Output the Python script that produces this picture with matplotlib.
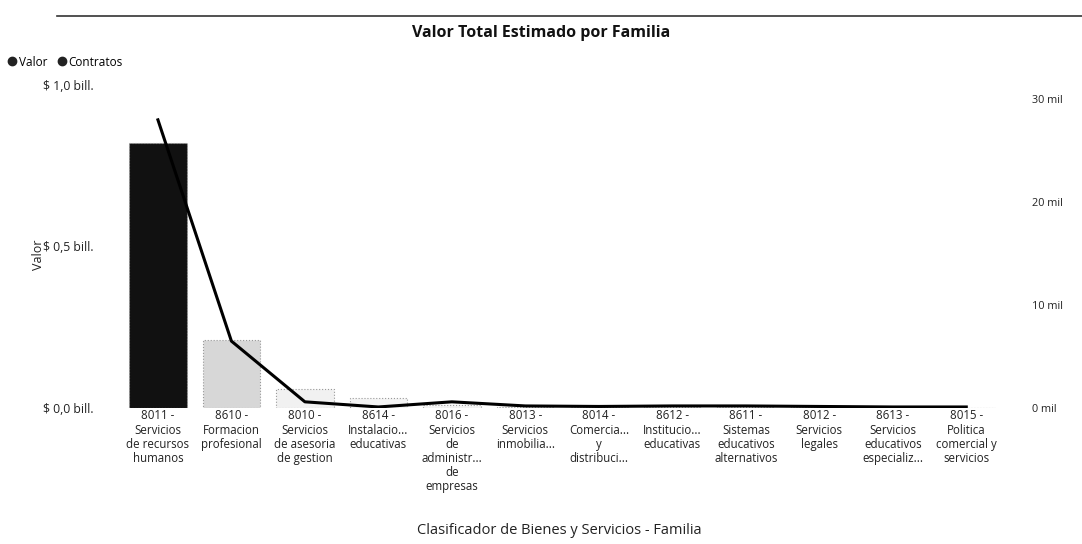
import matplotlib.pyplot as plt
from matplotlib.lines import Line2D
import numpy as np

plt.rcParams['font.family'] = ['Open Sans', 'DejaVu Sans']

categorias = [
    "8011 -\nServicios\nde recursos\nhumanos",
    "8610 -\nFormacion\nprofesional",
    "8010 -\nServicios\nde asesoria\nde gestion",
    "8614 -\nInstalacio...\neducativas",
    "8016 -\nServicios\nde\nadministr...\nde\nempresas",
    "8013 -\nServicios\ninmobilia...",
    "8014 -\nComercia...\ny\ndistribuci...",
    "8612 -\nInstitucio...\neducativas",
    "8611 -\nSistemas\neducativos\nalternativos",
    "8012 -\nServicios\nlegales",
    "8613 -\nServicios\neducativos\nespecializ...",
    "8015 -\nPolitica\ncomercial y\nservicios",
]
# valor en billones de pesos
valor = [0.82, 0.21, 0.06, 0.03, 0.01, 0.004, 0.003, 0.003, 0.002, 0.002, 0.001, 0.001]
# contratos en miles
contratos = [28.0, 6.5, 0.6, 0.1, 0.6, 0.2, 0.15, 0.2, 0.2, 0.15, 0.1, 0.1]

left_ticks = [0, 0.5, 1.0]
left_labels = ["$ 0,0 bill.", "$ 0,5 bill.", "$ 1,0 bill."]
right_ticks = [0, 10, 20, 30]
right_labels = ["0 mil", "10 mil", "20 mil", "30 mil"]

fig = plt.figure(figsize=(10.82, 5.44), dpi=100)
ax = fig.add_axes([0.112, 0.25, 0.815, 0.594])
x = np.arange(len(categorias))

vmax = max(valor)
colores = [plt.cm.Greys(0.08 + 0.92 * (v / vmax) ** 1.2) for v in valor]
colores[0] = '#111111'
ax.bar(x, valor, width=0.78, color=colores, edgecolor='#999999', linestyle=':', linewidth=0.8)
ax.set_xlim(-0.5, len(categorias) - 0.5)
ax.set_ylim(0, 1.0)
ax.set_yticks(left_ticks)
ax.set_yticklabels(left_labels, fontsize=8.8, color='#222222')
ax.set_xticks(x)
ax.set_xticklabels(categorias, fontsize=8.3, color='#222222', linespacing=1.12)
ax.tick_params(axis='y', length=0, pad=20)
ax.tick_params(axis='x', length=0, pad=1)
for s in ax.spines.values():
    s.set_visible(False)

ax2 = ax.twinx()
ax2.plot(x, contratos, color='black', linewidth=2.2)
ax2.set_ylim(0, 31.4)
ax2.set_yticks(right_ticks)
ax2.set_yticklabels(right_labels, fontsize=7.8, color='#222222')
ax2.tick_params(axis='y', length=0, pad=21)
for s in ax2.spines.values():
    s.set_visible(False)

fig.text(0.5, 1 - 33 / 544, "Valor Total Estimado por Familia", ha='center', va='center',
         fontsize=11.5, fontweight='bold', color='#111111')
fig.text(0.517, 1 - 530 / 544, "Clasificador de Bienes y Servicios - Familia", ha='center',
         va='center', fontsize=10.5, color='#222222')
fig.text(38 / 1082, 1 - 255 / 544, "Valor", rotation=90, ha='center', va='center',
         fontsize=9, color='#222222')

# linea superior del escaneo
fig.add_artist(Line2D([0.053, 1.0], [1 - 16 / 544, 1 - 16 / 544], color='#333333', linewidth=1.2))

handles = [Line2D([], [], marker='o', color='#222222', linestyle='', markersize=6),
           Line2D([], [], marker='o', color='#222222', linestyle='', markersize=6)]
fig.legend(handles, ["Valor", "Contratos"], loc='center left', bbox_to_anchor=(0.0, 1 - 62 / 544),
           ncol=2, frameon=False, fontsize=8.5, handletextpad=0.0, columnspacing=0.6,
           handlelength=1.2, borderaxespad=0)

fig.savefig("out.png", dpi=100)
